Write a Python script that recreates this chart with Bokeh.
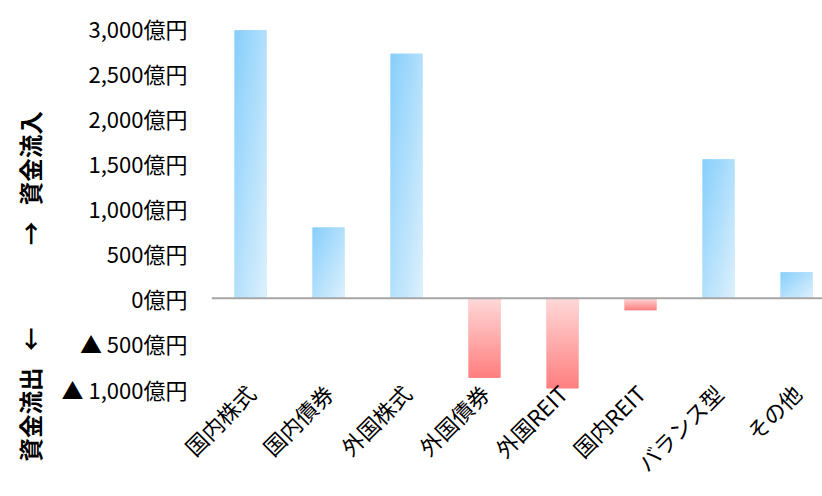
import numpy as np
from math import pi
from bokeh.plotting import figure
from bokeh.models import FixedTicker, Span, Range1d, Title
from bokeh.embed import file_html
from bokeh.resources import INLINE

# ---- data ----
categories = ["国内株式", "国内債券", "外国株式", "外国債券", "外国REIT", "国内REIT", "バランス型", "その他"]
flows = [2970, 785, 2710, -882, -1003, -133, 1540, 288]  # 億円
ytick_values = [-1000, -500, 0, 500, 1000, 1500, 2000, 2500, 3000]
ytick_labels = ["▲ 1,000億円", "▲ 500億円", "0億円", "500億円", "1,000億円",
                "1,500億円", "2,000億円", "2,500億円", "3,000億円"]
outflow_title = "資金流出\u2002\u2009←"
inflow_title = "→\u2002\u2009資金流入"

FONT = "Noto Sans CJK JP"
BAR_W = 0.41

p = figure(width=822, height=496, output_backend="svg", toolbar_location=None,
           x_range=Range1d(-0.5, 7.333), y_range=Range1d(-1000, 3100),
           min_border_left=211, min_border_right=0, min_border_top=18,
           min_border_bottom=108)
p.outline_line_color = None
p.xgrid.visible = False
p.ygrid.visible = False
p.background_fill_color = "white"
p.border_fill_color = "white"

# gradient fills (diagonal blue for inflow, vertical red for outflow)
blue_dark = np.array([135, 207, 251], dtype=float)
blue_light = np.array([222, 241, 253], dtype=float)
red_light = np.array([255, 217, 217], dtype=float)
red_dark = np.array([255, 127, 127], dtype=float)

R, C = 96, 32
imgs, xs, ys, dws, dhs = [], [], [], [], []
for i, v in enumerate(flows):
    arr = np.empty((R, C), dtype=np.uint32)
    view = arr.view(dtype=np.uint8).reshape((R, C, 4))
    u = np.linspace(0, 1, C)[None, :]
    r = np.linspace(0, 1, R)[:, None]  # 0 bottom, 1 top
    if v >= 0:
        f = (u + (1 - r)) / 2.0
        col = blue_dark[None, None, :] + (blue_light - blue_dark)[None, None, :] * f[:, :, None]
    else:
        f = np.repeat(r, C, axis=1)
        col = red_dark[None, None, :] + (red_light - red_dark)[None, None, :] * f[:, :, None]
    view[:, :, 0:3] = np.clip(np.round(col), 0, 255).astype(np.uint8)
    view[:, :, 3] = 255
    imgs.append(arr)
    xs.append(i - BAR_W / 2)
    ys.append(min(0, v))
    dws.append(BAR_W)
    dhs.append(abs(v))

base_colors = ["#b0dffa" if v >= 0 else "#ffacac" for v in flows]
p.vbar(x=list(range(len(flows))), top=flows, bottom=0, width=BAR_W,
       fill_color=base_colors, line_color=None)
p.image_rgba(image=imgs, x=xs, y=ys, dw=dws, dh=dhs)

p.add_layout(Span(location=0, dimension="width", line_color="#a6a6a6", line_width=2))

# y axis
p.yaxis.ticker = FixedTicker(ticks=ytick_values)
p.yaxis.major_label_overrides = {v: l for v, l in zip(ytick_values, ytick_labels)}
p.yaxis.axis_line_color = None
p.yaxis.major_tick_line_color = None
p.yaxis.major_tick_out = 0
p.yaxis.major_tick_in = 0
p.yaxis.minor_tick_line_color = None
p.yaxis.major_label_standoff = 24
p.yaxis.major_label_text_font = FONT
p.yaxis.major_label_text_font_size = "22px"
p.yaxis.major_label_text_color = "#000000"

# vertical axis title (outflow below, inflow above), read bottom to top
side_title = Title(text=outflow_title + "\u3000" * 3 + "\u2002" + inflow_title,
                   align="left", vertical_align="top", offset=-73, standoff=20,
                   text_font=FONT, text_font_style="bold", text_font_size="23.5px",
                   text_color="#000000")
p.add_layout(side_title, "left")

# x axis
p.xaxis.ticker = FixedTicker(ticks=list(range(len(categories))))
p.xaxis.major_label_overrides = {i: c for i, c in enumerate(categories)}
p.xaxis.axis_line_color = None
p.xaxis.major_tick_line_color = None
p.xaxis.major_tick_out = 0
p.xaxis.major_tick_in = 0
p.xaxis.minor_tick_line_color = None
p.xaxis.major_label_orientation = pi / 4
p.xaxis.major_label_standoff = 0
p.xaxis.major_label_text_font = FONT
p.xaxis.major_label_text_font_size = "22px"
p.xaxis.major_label_text_color = "#000000"

open("out.html", "w").write(file_html(p, INLINE))
